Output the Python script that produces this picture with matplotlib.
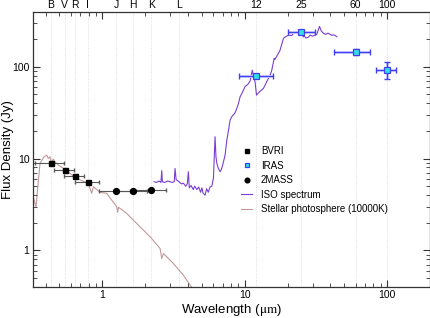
import numpy as np
import matplotlib
matplotlib.use("Agg")
import matplotlib.pyplot as plt
from matplotlib.ticker import LogLocator, NullFormatter, FixedLocator, FixedFormatter

plt.rcParams['font.family'] = ['Liberation Sans', 'DejaVu Sans']
plt.rcParams['mathtext.fontset'] = 'stix'

# --- photometry ---
bvri_wl = [0.436, 0.545, 0.64, 0.79]
bvri_flux = [8.87, 7.5, 6.4, 5.59]
bvri_xerr = [0.098, 0.09, 0.10, 0.15]

tmass_wl = [1.25, 1.65, 2.2]
tmass_flux = [4.43, 4.43, 4.57]
tmass_xerr = [0.31, 0.40, 0.59]

iras_wl = [12, 25, 60, 100]
iras_flux = [78.6, 240, 144.6, 92.8]
iras_xerr_lo = [2.9, 5.0, 17.7, 16.6]
iras_xerr_hi = [3.9, 6.4, 16.4, 16.0]
iras_yerr = [4, 12, 12, 19]

# --- ISO spectrum ---
iso_wl = [2.31, 2.40, 2.50, 2.58, 2.615, 2.64, 2.75, 2.88, 2.99, 3.10, 3.20, 3.24,
          3.30, 3.45, 3.60, 3.71, 3.85, 3.95, 4.02, 4.08, 4.20, 4.35, 4.45, 4.61,
          4.75, 4.90, 5.00, 5.10, 5.27, 5.40, 5.55, 5.70, 5.87, 6.03, 6.19, 6.28,
          6.37, 6.53, 6.72, 6.85, 7.00, 7.28, 7.49, 7.70, 7.90, 8.10, 8.33, 8.55,
          8.80, 9.05, 9.28, 9.6, 10.07, 10.5, 10.91, 11.10, 11.30, 11.5, 11.83, 12.1,
          12.5, 12.8, 13.53, 14.3, 15.09, 15.5, 16.09, 16.3, 17.25, 17.7, 18.71, 19.2,
          20.28, 21.4, 22.0, 23.8, 24.5, 25.0, 25.8, 26.2, 27.0, 28.0, 28.8, 30.0,
          31.1, 32.1, 33.5, 34.5, 35.7, 37.0, 38.5, 39.8, 41.0, 42.5, 44.4]
iso_flux = [5.6, 5.5, 5.7, 5.5, 7.4, 5.6, 5.5, 5.7, 5.6, 5.5, 5.6, 7.8,
            5.9, 5.6, 5.3, 5.4, 5.0, 5.3, 7.2, 4.8, 5.1, 4.6, 5.0, 4.6,
            4.9, 4.3, 4.8, 4.2, 4.0, 4.7, 4.3, 4.9, 5.0, 6.1, 17.3, 10.5,
            8.9, 7.8, 7.2, 7.6, 8.5, 10.9, 15.9, 20.5, 26.3, 28.5, 30.0, 31.5,
            35.2, 40.0, 47.1, 52, 61, 64, 70, 80, 91.6, 80, 68, 49,
            52, 54, 58, 69, 81, 92, 123, 120, 140, 151, 204, 210,
            221, 218, 231, 240, 251, 240, 211, 216, 205, 210, 221, 215,
            221, 225, 275, 245, 231, 225, 232, 225, 220, 222, 212]

# --- stellar photosphere (10000K) ---
phot_wl = [0.327, 0.342, 0.365, 0.389, 0.407, 0.417, 0.429, 0.440, 0.452, 0.465,
           0.491, 0.532, 0.593, 0.661, 0.797, 0.842, 0.865, 0.963, 1.074, 1.164,
           1.262, 1.282, 1.30, 1.484, 1.651, 1.840, 2.164, 2.544, 2.615, 2.684,
           3.155, 3.709, 4.134, 4.5]
phot_flux = [3.84, 2.99, 8.87, 10.46, 10.92, 10.05, 10.46, 8.9, 9.9, 9.23,
             8.50, 7.82, 6.90, 6.08, 5.37, 4.18, 4.93, 4.3, 4.18, 3.53,
             3.0, 2.6, 2.95, 2.53, 2.14, 1.81, 1.41, 1.05, 0.818, 0.927,
             0.722, 0.538, 0.419, 0.35]

bands = ['B', 'V', 'R', 'I', 'J', 'H', 'K', 'L', '12', '25', '60', '100']
band_wl = [0.436, 0.545, 0.64, 0.79, 1.25, 1.65, 2.2, 3.48, 12, 25, 60, 100]

fig = plt.figure(figsize=(4.31, 3.18), dpi=100)
ax = fig.add_axes([0.0766, 0.0975, 0.921, 0.865])
ax.set_xscale('log')
ax.set_yscale('log')
ax.set_xlim(0.326, 200)
ax.set_ylim(0.4, 395)

for w in band_wl:
    ax.axvline(w, color='#d4d4d4', ls=':', lw=0.6, zorder=0)

stel, = ax.plot(phot_wl, phot_flux, color='#c29a9a', lw=0.8, zorder=1)
iso, = ax.plot(iso_wl, iso_flux, color='#7a3fd2', lw=0.8, zorder=2)

ax.errorbar(bvri_wl, bvri_flux, xerr=bvri_xerr, fmt='none', ecolor='0.35',
            elinewidth=0.8, capsize=1.5, zorder=3)
ax.errorbar(tmass_wl, tmass_flux, xerr=tmass_xerr, fmt='none', ecolor='0.35',
            elinewidth=0.8, capsize=1.5, zorder=3)
ax.errorbar(iras_wl, iras_flux, xerr=[iras_xerr_lo, iras_xerr_hi], yerr=iras_yerr,
            fmt='none', ecolor='#c4c4ff', elinewidth=2.2, capsize=0, zorder=3)
ax.errorbar(iras_wl, iras_flux, xerr=[iras_xerr_lo, iras_xerr_hi], yerr=iras_yerr,
            fmt='none', ecolor='#4040f0', elinewidth=0.8, capsize=2.5, zorder=3)

b, = ax.plot(bvri_wl, bvri_flux, 's', color='k', ms=3.6, zorder=4)
t, = ax.plot(tmass_wl, tmass_flux, 'o', color='k', ms=4.2, zorder=4)
ir, = ax.plot(iras_wl, iras_flux, 's', mfc='#30e0e0', mec='#4040f0', mew=0.9,
              ms=4.2, ls='none', zorder=5)

ax.legend([b, ir, t, iso, stel],
          ['BVRI', 'IRAS', '2MASS', 'ISO spectrum', 'Stellar photosphere (10000K)'],
          loc='upper left', bbox_to_anchor=(0.515, 0.525), frameon=False,
          fontsize=7, handlelength=1.1, handletextpad=0.9, labelspacing=0.45,
          borderaxespad=0, markerscale=0.8)

ax.xaxis.set_major_locator(FixedLocator([1, 10, 100]))
ax.xaxis.set_major_formatter(FixedFormatter(['1', '10', '100']))
ax.xaxis.set_minor_locator(LogLocator(base=10, subs=np.arange(2, 10)))
ax.xaxis.set_minor_formatter(NullFormatter())
ax.yaxis.set_major_locator(FixedLocator([1, 10, 100]))
ax.yaxis.set_major_formatter(FixedFormatter(['1', '10', '100']))
ax.yaxis.set_minor_locator(LogLocator(base=10, subs=np.arange(2, 10)))
ax.yaxis.set_minor_formatter(NullFormatter())
ax.tick_params(which='both', direction='in', top=True, right=True,
               labelsize=7.5, color='0.2', pad=2.5)
ax.tick_params(which='major', length=5, width=0.8)
ax.tick_params(which='minor', length=3, width=0.6)
for s in ax.spines.values():
    s.set_color('0.2')
    s.set_linewidth(0.9)

for name, w in zip(bands, band_wl):
    ax.text(w, 1.006, name, transform=ax.get_xaxis_transform(), ha='center',
            va='bottom', fontsize=7.5)

ax.set_xlabel(r'Wavelength ($\mathrm{\mu m}$)', fontsize=9.5, labelpad=1)
ax.set_ylabel('Flux Density (Jy)', fontsize=9.5)
ax.yaxis.set_label_coords(-0.047, 0.5)

fig.savefig('out.png', dpi=100)
